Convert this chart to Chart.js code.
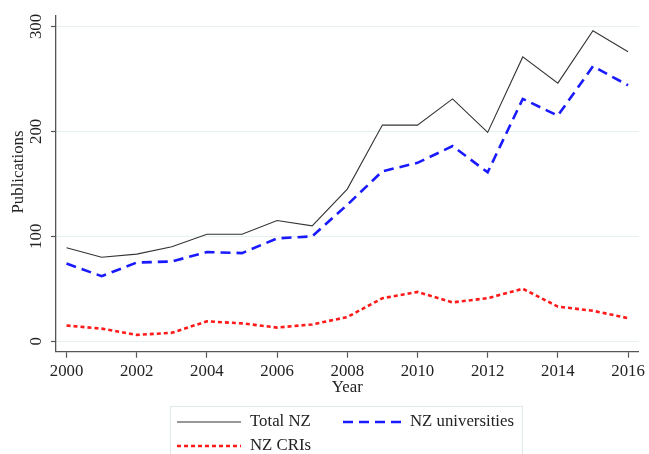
<!DOCTYPE html>
<html>
<head>
<meta charset="utf-8">
<script src="https://cdn.jsdelivr.net/npm/chart.js@4"></script>
<style>
  body { margin: 0; background: #fff; }
  #wrap { width: 649px; height: 454px; position: relative; }
</style>
</head>
<body>
<div id="wrap"><canvas id="pubChart"></canvas></div>
<script>
const years = [2000, 2001, 2002, 2003, 2004, 2005, 2006, 2007, 2008, 2009, 2010, 2011, 2012, 2013, 2014, 2015, 2016];
const totalNZ = [89, 80, 83, 90, 102, 102, 115, 110, 145, 206, 206, 231, 199, 271, 246, 296, 276];
const nzUniversities = [74, 62, 75, 76, 85, 84, 98, 100, 130, 162, 170, 186, 161, 231, 215, 262, 244];
const nzCRIs = [15, 12, 6, 8, 19, 17, 13, 16, 23, 41, 47, 37, 41, 50, 33, 29, 22];
const xTicks = [2000, 2002, 2004, 2006, 2008, 2010, 2012, 2014, 2016];
const yTicks = [0, 100, 200, 300];

const serif = '"Liberation Serif", "Times New Roman", serif';
const axisColor = '#555';
const fontSize = 16.8;

function points(values) {
  return values.map((v, i) => ({ x: years[i], y: v }));
}

// y tick labels, axis titles and the boxed legend, Stata style
const extras = {
  id: 'extras',
  afterDraw(chart) {
    const ctx = chart.ctx;
    const y = chart.scales.y;
    ctx.save();
    ctx.fillStyle = '#222';
    ctx.font = fontSize + 'px ' + serif;
    ctx.textAlign = 'center';
    ctx.textBaseline = 'middle';
    yTicks.forEach(v => {
      ctx.save();
      ctx.translate(37, y.getPixelForValue(v));
      ctx.rotate(-Math.PI / 2);
      ctx.fillText(String(v), 0, 0);
      ctx.restore();
    });
    ctx.save();
    ctx.translate(19, 172);
    ctx.rotate(-Math.PI / 2);
    ctx.fillText('Publications', 0, 0);
    ctx.restore();
    ctx.fillText('Year', (chart.chartArea.left + chart.chartArea.right) / 2, 388);

    // legend box
    ctx.strokeStyle = '#dfe8ea';
    ctx.lineWidth = 1;
    ctx.strokeRect(170.5, 406.5, 352, 60);
    const items = [
      { ds: 0, x: 177, y: 422, len: 64 },
      { ds: 1, x: 343, y: 422, len: 58 },
      { ds: 2, x: 177, y: 446, len: 64 }
    ];
    ctx.textAlign = 'left';
    items.forEach(it => {
      const ds = chart.data.datasets[it.ds];
      ctx.beginPath();
      ctx.strokeStyle = ds.borderColor;
      ctx.lineWidth = ds.borderWidth;
      ctx.setLineDash(ds.borderDash || []);
      ctx.moveTo(it.x, it.y);
      ctx.lineTo(it.x + it.len, it.y);
      ctx.stroke();
      ctx.setLineDash([]);
      ctx.fillStyle = '#222';
      ctx.fillText(ds.label, it.x + it.len + 9, it.y);
    });
    ctx.restore();
  }
};

new Chart(document.getElementById('pubChart'), {
  type: 'line',
  data: {
    datasets: [
      {
        label: 'Total NZ',
        data: points(totalNZ),
        borderColor: '#333',
        borderWidth: 1.1,
        pointRadius: 0,
        tension: 0
      },
      {
        label: 'NZ universities',
        data: points(nzUniversities),
        borderColor: '#1a1aff',
        borderWidth: 2.6,
        borderDash: [10, 6],
        pointRadius: 0,
        tension: 0
      },
      {
        label: 'NZ CRIs',
        data: points(nzCRIs),
        borderColor: '#ff1a1a',
        borderWidth: 2.6,
        borderDash: [4, 3],
        pointRadius: 0,
        tension: 0
      }
    ]
  },
  options: {
    responsive: true,
    maintainAspectRatio: false,
    animation: false,
    layout: { padding: { left: 0, top: 16, right: 10, bottom: 0 } },
    plugins: {
      legend: { display: false },
      tooltip: { enabled: false }
    },
    scales: {
      x: {
        type: 'linear',
        min: 1999.7,
        max: 2016.3,
        afterBuildTicks: s => { s.ticks = xTicks.map(v => ({ value: v })); },
        afterFit: s => { s.height = 102.3; },
        ticks: {
          color: '#222',
          font: { family: serif, size: fontSize },
          padding: 4,
          maxRotation: 0,
          callback: v => String(v)
        },
        grid: {
          drawOnChartArea: false,
          drawTicks: true,
          tickLength: 6,
          tickColor: axisColor,
          tickWidth: 1.2
        },
        border: { color: axisColor, width: 1.3 }
      },
      y: {
        min: -10,
        max: 310,
        afterBuildTicks: s => { s.ticks = yTicks.map(v => ({ value: v })); },
        afterFit: s => { s.width = 56; },
        ticks: { display: false },
        grid: {
          color: '#e6eff1',
          lineWidth: 1,
          drawTicks: true,
          tickLength: 5,
          tickColor: axisColor,
          tickWidth: 1.2
        },
        border: { color: axisColor, width: 1.3 }
      }
    }
  },
  plugins: [extras]
});
</script>
</body>
</html>
